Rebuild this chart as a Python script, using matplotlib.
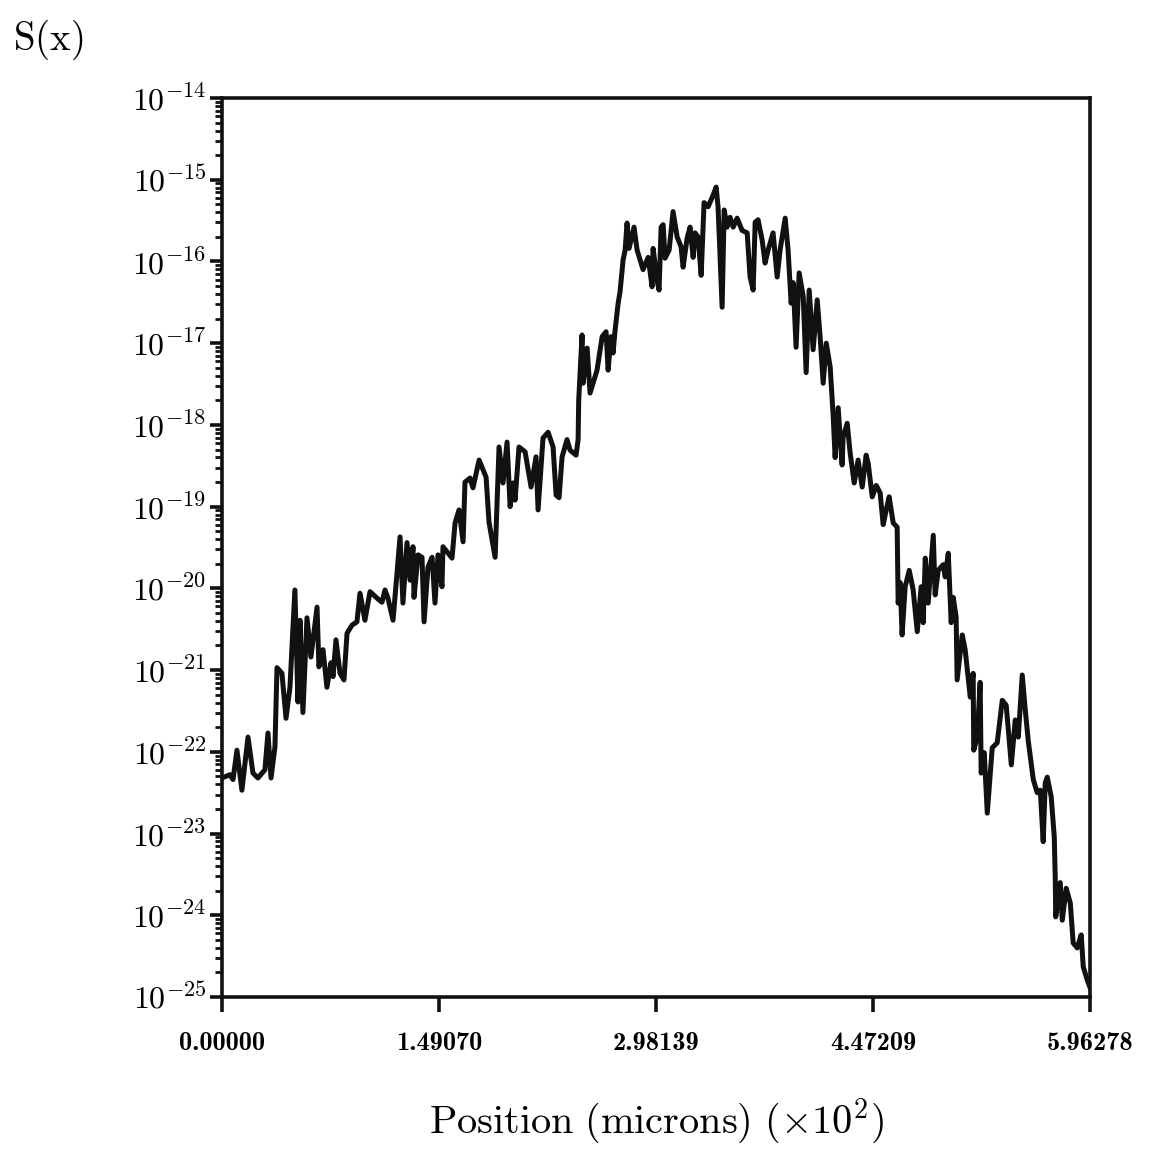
import numpy as np
import matplotlib
matplotlib.use("Agg")
import matplotlib.pyplot as plt
from matplotlib.ticker import FixedLocator, LogLocator, FuncFormatter, NullLocator

# position along the sample (units of 100 microns)
pos = [
    0.000, 0.055, 0.076, 0.103, 0.137, 0.179, 0.213, 0.247, 0.295, 0.316,
    0.337, 0.364, 0.378, 0.412, 0.440, 0.467, 0.501, 0.522, 0.536, 0.556,
    0.584, 0.611, 0.653, 0.666, 0.694, 0.721, 0.749, 0.763, 0.783, 0.811,
    0.838, 0.859, 0.893, 0.927, 0.948, 0.982, 1.017, 1.065, 1.099, 1.120,
    1.140, 1.175, 1.202,
    1.223, 1.243, 1.271, 1.292, 1.312, 1.319, 1.347, 1.374, 1.388, 1.415,
    1.443, 1.463, 1.484, 1.511, 1.518, 1.580, 1.601, 1.628, 1.656, 1.669,
    1.704, 1.724, 1.766, 1.814, 1.834, 1.876, 1.903, 1.930, 1.958, 1.979,
    1.999, 2.013, 2.040, 2.082, 2.123, 2.157, 2.171, 2.205, 2.240, 2.274,
    2.295, 2.315, 2.336, 2.370, 2.391, 2.432, 2.446,
    2.450, 2.473, 2.480, 2.508, 2.528, 2.576, 2.611, 2.638, 2.652, 2.672,
    2.686, 2.700, 2.721, 2.734, 2.755, 2.769, 2.782, 2.796, 2.830, 2.851,
    2.892, 2.927, 2.954, 2.961, 2.988, 3.002, 3.016, 3.030, 3.043, 3.071,
    3.098, 3.126, 3.153, 3.167, 3.195, 3.215, 3.236, 3.249, 3.270, 3.291,
    3.311, 3.339, 3.373, 3.394, 3.407, 3.435, 3.449, 3.469, 3.490, 3.511,
    3.538, 3.572, 3.607, 3.627, 3.648, 3.662, 3.682, 3.710, 3.730, 3.751,
    3.785, 3.813, 3.833, 3.868, 3.888, 3.909, 3.923, 3.943, 3.964, 3.992,
    4.012, 4.033, 4.060, 4.088, 4.108, 4.129, 4.150, 4.177,
    4.198, 4.211, 4.232, 4.259, 4.266, 4.294, 4.314, 4.342, 4.369, 4.397,
    4.424, 4.438, 4.466, 4.493, 4.520, 4.541, 4.562, 4.582, 4.610, 4.637,
    4.644, 4.658, 4.671, 4.692, 4.720, 4.747, 4.775, 4.802, 4.816, 4.830,
    4.850, 4.885, 4.898, 4.919, 4.953, 4.967, 4.988, 5.008, 5.022, 5.042,
    5.049, 5.084, 5.104, 5.139, 5.159, 5.163, 5.187, 5.207, 5.214, 5.235,
    5.256, 5.290, 5.324, 5.359, 5.386, 5.421, 5.448, 5.469, 5.496, 5.517,
    5.537, 5.572, 5.599, 5.620, 5.640, 5.654, 5.668, 5.695, 5.716, 5.723,
    5.726, 5.757, 5.771, 5.798, 5.826, 5.846, 5.874, 5.901, 5.915, 5.942,
    5.963,
]

# log10 of S(x) at each position
log_s = [
    -22.32, -22.28, -22.34, -21.98, -22.47, -21.82, -22.26, -22.32, -22.22, -21.77,
    -22.32, -21.94, -20.97, -21.04, -21.59, -21.21, -20.02, -21.39, -20.39, -21.52,
    -20.36, -20.84, -20.23, -20.96, -20.75, -21.21, -20.91, -21.08, -20.63, -21.04,
    -21.12, -20.55, -20.45, -20.41, -20.06, -20.39, -20.04, -20.12, -20.17, -20.02,
    -20.12, -20.39, -19.81,
    -19.37, -20.18, -19.44, -19.90, -19.49, -20.11, -19.59, -19.62, -20.41, -19.74,
    -19.62, -20.18, -19.59, -19.98, -19.49, -19.63, -19.20, -19.04, -19.43, -18.70,
    -18.65, -18.77, -18.43, -18.64, -19.19, -19.62, -18.27, -18.71, -18.21, -19.00,
    -18.71, -18.92, -18.27, -18.33, -18.76, -18.39, -19.04, -18.16, -18.09, -18.27,
    -18.86, -18.89, -18.39, -18.18, -18.31, -18.37, -18.18,
    -17.70, -16.90, -17.49, -17.06, -17.61, -17.33, -16.92, -16.86, -17.33, -16.92,
    -17.12, -16.84, -16.51, -16.37, -15.98, -15.86, -15.53, -15.84, -15.58, -15.86,
    -16.10, -15.95, -16.31, -15.84, -16.23, -16.35, -15.58, -15.55, -15.96, -15.86,
    -15.39, -15.70, -15.82, -16.07, -15.71, -15.58, -15.95, -15.65, -15.70, -16.17,
    -15.28, -15.33, -15.19, -15.09, -15.33, -16.56, -15.37, -15.58, -15.46, -15.58,
    -15.47, -15.62, -15.65, -16.19, -16.35, -15.52, -15.49, -15.74, -16.02, -15.86,
    -15.65, -16.19, -15.86, -15.47, -15.86, -16.51, -16.26, -17.05, -16.14, -16.43,
    -17.36, -16.35, -17.08, -16.47, -16.92, -17.49, -17.00, -17.29,
    -17.90, -18.40, -17.79, -18.49, -18.15, -17.98, -18.34, -18.71, -18.43, -18.76,
    -18.37, -18.47, -18.88, -18.74, -18.83, -19.22, -19.04, -18.88, -19.20, -19.25,
    -20.18, -19.93, -20.57, -19.98, -19.78, -20.02, -20.53, -19.98, -20.42, -19.63,
    -20.18, -19.35, -20.08, -19.78, -19.71, -19.86, -19.57, -20.42, -20.11, -20.35,
    -21.12, -20.57, -20.75, -21.33, -21.04, -21.98, -21.82, -21.15, -22.26, -22.01,
    -22.75, -21.95, -21.89, -21.37, -21.43, -22.16, -21.61, -21.82, -21.06, -21.49,
    -21.86, -22.34, -22.50, -22.47, -23.10, -22.38, -22.31, -22.55, -23.04, -23.57,
    -24.02, -23.60, -24.06, -23.67, -23.85, -24.34, -24.40, -24.24, -24.63, -24.79,
    -24.89,
]

x_ticks = [0.0, 1.49070, 2.98139, 4.47209, 5.96278]
x_ticklabels = ["0.00000", "1.49070", "2.98139", "4.47209", "5.96278"]

plt.rcParams["mathtext.fontset"] = "cm"
plt.rcParams["axes.unicode_minus"] = False

fig = plt.figure(figsize=(11.5, 11.53), dpi=100)
ax = fig.add_axes([0.193, 0.1353, 0.755, 0.7797])

ax.semilogy(pos, 10.0 ** np.array(log_s), color="#111111", lw=3.6,
            solid_joinstyle="round")

ax.set_xlim(0.0, 5.96278)
ax.set_ylim(1e-25, 1e-14)

# x axis: five labelled positions only
ax.xaxis.set_major_locator(FixedLocator(x_ticks))
ax.xaxis.set_minor_locator(NullLocator())
ax.set_xticklabels(x_ticklabels, family=["cmb10", "DejaVu Serif"], fontsize=19)

# y axis: decades with minor ticks in between
ax.yaxis.set_major_locator(LogLocator(base=10, numticks=20))
ax.yaxis.set_minor_locator(LogLocator(base=10, subs=np.arange(2, 10), numticks=20))
ax.yaxis.set_major_formatter(FuncFormatter(lambda v, p: r"$10^{%d}$" % round(np.log10(v))))

ax.tick_params(axis="both", which="major", direction="out", width=2.6, color="#111111")
ax.tick_params(axis="y", which="major", length=9, labelsize=23, pad=2)
ax.tick_params(axis="y", which="minor", direction="out", length=5, width=2.0, color="#111111")
ax.tick_params(axis="x", which="major", length=11, pad=14)
ax.tick_params(top=False, right=False, which="both")

for s in ax.spines.values():
    s.set_linewidth(2.6)
    s.set_color("#111111")

ax.set_xlabel(r"$\mathrm{Position\ (microns)\ (\times 10^2)}$", fontsize=29, labelpad=30)
fig.text(0.011, 0.965, r"$\mathrm{S(x)}$", fontsize=28, ha="left", va="center")

fig.savefig("out.png", dpi=100)
